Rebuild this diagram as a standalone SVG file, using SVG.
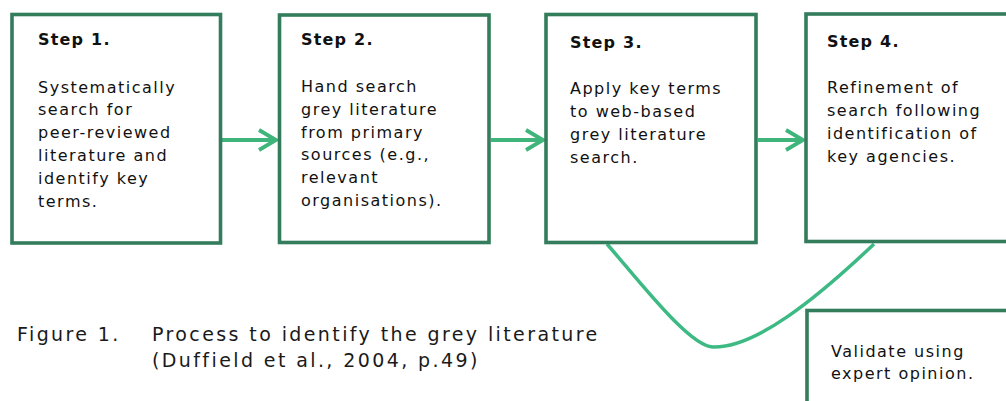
<svg xmlns="http://www.w3.org/2000/svg" width="1006" height="401" viewBox="0 0 1006 401">
<style>
.box{fill:#ffffff;stroke:#347d5c;stroke-width:3.6}
.h{font-family:"DejaVu Sans",Verdana,sans-serif;font-weight:bold;font-size:16px;fill:#111;letter-spacing:1.2px}
.t{font-family:"DejaVu Sans",Verdana,sans-serif;font-size:16px;fill:#111;letter-spacing:1.5px}
.cap{font-family:"DejaVu Sans",Verdana,sans-serif;font-size:19px;fill:#1a1a1a;letter-spacing:2.4px}
.arr{fill:none;stroke:#3fb57c;stroke-width:3.8;stroke-linejoin:miter}
.crv{fill:none;stroke:#3dba84;stroke-width:3.5}
</style>
<rect width="1006" height="401" fill="#ffffff"/>
<g id="connectors">
<path class="arr" d="M222 140 H275 M259 130 L276 140 L259 150"/>
<path class="arr" d="M491 140 H542 M526 130 L543 140 L526 150"/>
<path class="arr" d="M758 140 H802 M786 130 L803 140 L786 150"/>
<path class="crv" d="M607 244 C640 282 690 347 713 347 C755 348 815 300 874 244"/>
</g>
<g id="step1">
<rect class="box" x="12" y="14.5" width="208.5" height="228.5"/>
<text class="h" x="38" y="45">Step 1.</text>
<text class="t" x="38" y="92.5">Systematically</text>
<text class="t" x="38" y="115.3">search for</text>
<text class="t" x="38" y="138.1">peer-reviewed</text>
<text class="t" x="38" y="160.9">literature and</text>
<text class="t" x="38" y="183.7">identify key</text>
<text class="t" x="38" y="206.5">terms.</text>
</g>
<g id="step2">
<rect class="box" x="279.5" y="15" width="209.5" height="227.5"/>
<text class="h" x="301" y="45">Step 2.</text>
<text class="t" x="301" y="92">Hand search</text>
<text class="t" x="301" y="114.8">grey literature</text>
<text class="t" x="301" y="137.6">from primary</text>
<text class="t" x="301" y="160.4">sources (e.g.,</text>
<text class="t" x="301" y="183.2">relevant</text>
<text class="t" x="301" y="206">organisations).</text>
</g>
<g id="step3">
<rect class="box" x="546" y="14.5" width="210" height="228"/>
<text class="h" x="570" y="47.5">Step 3.</text>
<text class="t" x="570" y="94.3">Apply key terms</text>
<text class="t" x="570" y="117.2">to web-based</text>
<text class="t" x="570" y="140.1">grey literature</text>
<text class="t" x="570" y="163">search.</text>
</g>
<g id="step4">
<rect class="box" x="806" y="14" width="210" height="227.5"/>
<text class="h" x="827" y="46.7">Step 4.</text>
<text class="t" x="827" y="92.7">Refinement of</text>
<text class="t" x="827" y="115.9">search following</text>
<text class="t" x="827" y="139.1">identification of</text>
<text class="t" x="827" y="162.3">key agencies.</text>
</g>
<g id="validate">
<rect class="box" x="807" y="310.5" width="210" height="100"/>
<text class="t" x="831" y="357">Validate using</text>
<text class="t" x="831" y="379">expert opinion.</text>
</g>
<g id="caption">
<text class="cap" x="17" y="341">Figure 1.</text>
<text class="cap" x="152" y="341">Process to identify the grey literature</text>
<text class="cap" x="152" y="367">(Duffield et al., 2004, p.49)</text>
</g>
</svg>
